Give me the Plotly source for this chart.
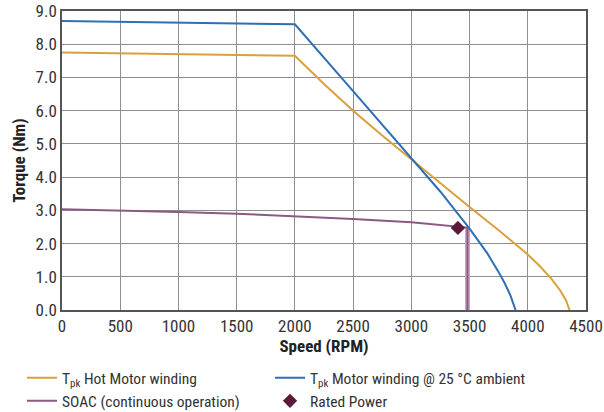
import plotly.graph_objects as go

# Torque/speed characteristics of the motor (Nm vs RPM)
hot_rpm = [0, 500, 1000, 1500, 2000, 2250, 2500, 2750, 3000, 3250, 3500, 3750, 4000, 4100, 4200, 4280, 4330, 4358]
hot_torque = [7.75, 7.73, 7.71, 7.68, 7.65, 6.8, 6.0, 5.25, 4.53, 3.82, 3.1, 2.4, 1.67, 1.33, 0.95, 0.58, 0.28, 0.0]

cold_rpm = [0, 2000, 2500, 3000, 3250, 3500, 3650, 3750, 3800, 3850, 3895]
cold_torque = [8.7, 8.6, 6.59, 4.58, 3.56, 2.45, 1.72, 1.14, 0.82, 0.45, 0.0]

soac_rpm = [0, 500, 1000, 1500, 2000, 2500, 3000, 3400, 3482, 3482]
soac_torque = [3.03, 3.0, 2.95, 2.9, 2.83, 2.74, 2.64, 2.5, 2.48, 0.0]

rated_rpm = [3400]
rated_torque = [2.47]

x_ticks = [0, 500, 1000, 1500, 2000, 2500, 3000, 3500, 4000, 4500]
y_ticks = [0, 1, 2, 3, 4, 5, 6, 7, 8, 9]

FONT = "Roboto Condensed, Liberation Sans Narrow, DejaVu Sans Condensed, sans-serif"

fig = go.Figure()
# pale band under the SOAC cut-off drop
fig.add_trace(go.Scatter(x=soac_rpm[-2:], y=soac_torque[-2:], mode="lines",
                         line=dict(color="#c9a9c3", width=5),
                         showlegend=False, hoverinfo="skip"))
# left legend column
fig.add_trace(go.Scatter(x=hot_rpm, y=hot_torque, mode="lines",
                         line=dict(color="#d9a03c", width=2),
                         name="T<sub>pk</sub> Hot Motor winding", legend="legend"))
fig.add_trace(go.Scatter(x=soac_rpm, y=soac_torque, mode="lines",
                         line=dict(color="#8a5a80", width=2),
                         name="SOAC (continuous operation)", legend="legend"))
# right legend column
fig.add_trace(go.Scatter(x=cold_rpm, y=cold_torque, mode="lines",
                         line=dict(color="#2f6fb3", width=2),
                         name="T<sub>pk</sub> Motor winding @ 25 °C ambient", legend="legend2"))
fig.add_trace(go.Scatter(x=rated_rpm, y=rated_torque, mode="markers",
                         marker=dict(symbol="diamond", size=11, color="#5b1a3a"),
                         name="Rated Power", legend="legend2"))

axis_common = dict(
    showgrid=True, gridcolor="#8f8f8f", gridwidth=1,
    showline=True, linecolor="#555555", linewidth=1.5, mirror=True,
    zeroline=False, ticks="",
    tickfont=dict(family=FONT, size=17, color="#333333"),
)

legend_common = dict(
    orientation="v", xanchor="left", yanchor="top", y=-0.171,
    itemwidth=30, tracegroupgap=0, bgcolor="rgba(0,0,0,0)",
    font=dict(family=FONT, size=15.5, color="#333333"),
)

fig.update_layout(
    width=604, height=412,
    margin=dict(l=62, r=18, t=11, b=102, autoexpand=False),
    paper_bgcolor="white", plot_bgcolor="white",
    font=dict(family=FONT, color="#222222"),
    showlegend=True,
    legend=dict(x=-0.0763, **legend_common),
    legend2=dict(x=0.397, **legend_common),
)

fig.update_xaxes(
    range=[0, 4500], tickvals=x_ticks, ticktext=[str(v) for v in x_ticks],
    title=dict(text="<b>Speed (RPM)</b>", font=dict(family=FONT, size=17, color="#222222"), standoff=4),
    **axis_common,
)
fig.update_yaxes(
    range=[0, 9], tickvals=y_ticks, ticktext=[f"{v:.1f}" for v in y_ticks],
    title=dict(text="<b>Torque (Nm)</b>", font=dict(family=FONT, size=17, color="#222222"), standoff=6),
    **axis_common,
)

fig.write_html("out.html")
